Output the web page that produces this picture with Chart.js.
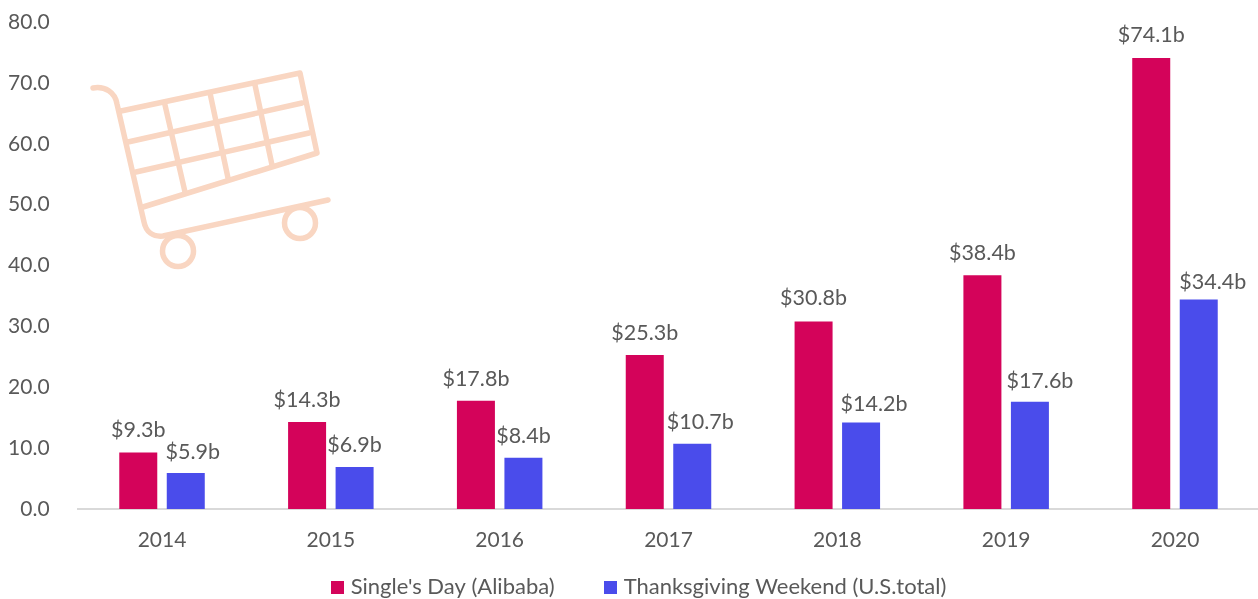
<!DOCTYPE html>
<html>
<head>
<meta charset="utf-8">
<script src="https://cdn.jsdelivr.net/npm/chart.js@4"></script>
<style>
html,body{margin:0;padding:0;background:#fff;overflow:hidden}
#wrap{position:relative;width:1258px;height:599px}
canvas{position:absolute;left:0;top:0}
svg{position:absolute;left:0;top:0;pointer-events:none}
</style>
</head>
<body>
<div id="wrap">
<canvas id="c" width="1258" height="599"></canvas>
<svg width="1258" height="599" fill="none" stroke="#F9D6C2" stroke-width="5.5" stroke-linecap="round" stroke-linejoin="round">
<path d="M93 88C105 86 115 92 117 104L144 222C146 232 153 237 163 236L328 200"/>
<path d="M121 111L300 73L317 153L143 207"/>
<path d="M128 142L302 103M136 172L309 133"/>
<path d="M165 105L185 192M210 93L228 178M255 85L272 165"/>
<circle cx="178" cy="251" r="15.5"/>
<circle cx="300" cy="223" r="15.5"/>
</svg>
</div>
<script>
const categories = ['2014','2015','2016','2017','2018','2019','2020'];
const singlesDay = [9.3,14.3,17.8,25.3,30.8,38.4,74.1];
const thanksgiving = [5.9,6.9,8.4,10.7,14.2,17.6,34.4];
const seriesNames = ["Single's Day (Alibaba)","Thanksgiving Weekend (U.S.total)"];
const seriesColors = ['#D4035A','#4A4CEB'];
const TEXT = '#595959';
const FONT = 'Lato';
// hand placement of the value labels beside their bars, as in the original
const labelShiftX = [[0,0,0,0,0,0,0],[7,0,0,8,13,10,14]];
const labelGapY = [[22,22,22,22,23,22,23],[21,22,22,22,18,21,18]];

function swatch(color){
  const s=document.createElement('canvas');s.width=13;s.height=13;
  const x=s.getContext('2d');x.fillStyle=color;x.fillRect(0,0,13,13);return s;
}
const valueLabels={id:'valueLabels',
 afterLayout(chart){
  chart.legend.left+=12;chart.legend.right+=12;
  const x=chart.scales.x;x.right=1259.4;x.width=x.right-x.left;x.configure();
 },
 afterDatasetsDraw(chart){
  const ctx=chart.ctx;ctx.save();
  ctx.font='21.5px '+FONT;ctx.fillStyle=TEXT;ctx.textAlign='center';ctx.textBaseline='middle';
  chart.data.datasets.forEach((ds,i)=>{
    chart.getDatasetMeta(i).data.forEach((bar,j)=>{
      ctx.fillText('$'+ds.data[j].toFixed(1)+'b',bar.x+labelShiftX[i][j],bar.y-labelGapY[i][j]);
    });
  });
  ctx.restore();
}};
new Chart(document.getElementById('c'),{
  type:'bar',
  data:{labels:categories,datasets:[
    {label:seriesNames[0],data:singlesDay,backgroundColor:seriesColors[0],pointStyle:swatch(seriesColors[0])},
    {label:seriesNames[1],data:thanksgiving,backgroundColor:seriesColors[1],pointStyle:swatch(seriesColors[1])}
  ]},
  options:{
    responsive:false,animation:false,devicePixelRatio:1,
    layout:{padding:{top:22,left:0,right:0,bottom:-9}},
    datasets:{bar:{categoryPercentage:0.5627,barPercentage:0.8}},
    plugins:{
      tooltip:{enabled:false},
      legend:{position:'bottom',labels:{usePointStyle:true,pointStyleWidth:4,padding:54,color:TEXT,font:{family:FONT,size:22}}}
    },
    scales:{
      x:{grid:{display:false,drawTicks:false},border:{display:true,color:'#D9D9D9',width:2},
         ticks:{mirror:true,color:TEXT,font:{family:FONT,size:21},padding:-44,maxRotation:0,autoSkip:false},
         afterFit(s){s.height=13}},
      y:{min:0,max:80,grid:{display:false,drawTicks:false},border:{display:false},
         ticks:{stepSize:10,color:TEXT,font:{family:FONT,size:21},padding:28,callback:v=>v.toFixed(1)},
         afterFit(s){s.width=77.6;s.paddingTop=0;s.paddingBottom=0}}
    }
  },
  plugins:[valueLabels]
});
</script>
</body>
</html>
